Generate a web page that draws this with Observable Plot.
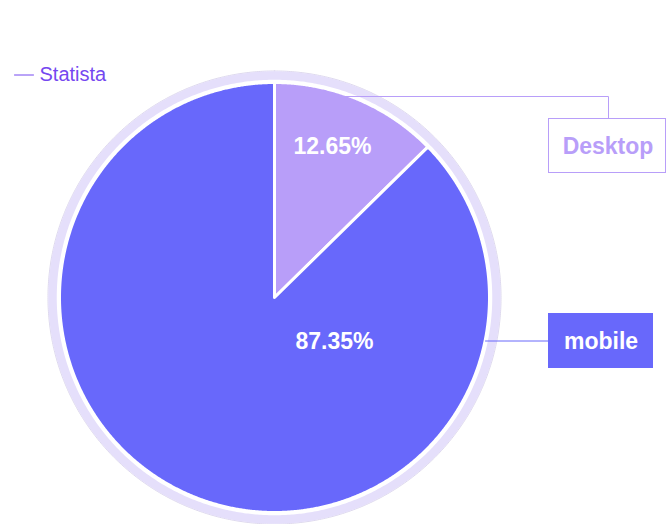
<!DOCTYPE html>
<html>
<head>
<meta charset="utf-8">
<script src="https://cdn.jsdelivr.net/npm/d3@7"></script>
<script src="https://cdn.jsdelivr.net/npm/@observablehq/plot@0.6"></script>
<style>
  html, body { margin: 0; padding: 0; background: #ffffff; }
  #chart svg { display: block; }
</style>
</head>
<body>
<div id="chart"></div>
<script>
// ---- data ----
const names = ["Desktop", "mobile"];
const shares = [12.65, 87.35];
const shareLabels = ["12.65%", "87.35%"];
const colors = ["#b89ef9", "#6868fb"];
const sourceLabel = "Statista";

// ---- geometry helpers (pixel -> data units) ----
const CX = 274, CY = 297, R = 215;
const px = x => (x - CX) / R;
const py = y => (CY - y) / R;

const rows = names.map((n, i) => ({name: n, value: shares[i], label: shareLabels[i], color: colors[i]}));
const arcs = d3.pie().sort(null).value(d => d.value)(rows);

const slicePts = [];
for (const a of arcs) {
  slicePts.push({name: a.data.name, x: 0, y: 0});
  const n = Math.max(2, Math.ceil((a.endAngle - a.startAngle) / 0.005));
  for (let k = 0; k <= n; k++) {
    const t = a.startAngle + (a.endAngle - a.startAngle) * k / n;
    slicePts.push({name: a.data.name, x: Math.sin(t), y: Math.cos(t)});
  }
}
const circle = r => d3.range(0, 721).map(k => {
  const t = k / 720 * 2 * Math.PI;
  return {x: r * Math.sin(t), y: r * Math.cos(t)};
});

const FONT = "'Liberation Sans', Arial, Helvetica, sans-serif";

const chart = Plot.plot({
  width: 666,
  height: 524,
  margin: 0,
  x: {domain: [-1, 1], range: [CX - R, CX + R], axis: null},
  y: {domain: [-1, 1], range: [CY + R, CY - R], axis: null},
  color: {domain: names, range: colors},
  style: {fontFamily: FONT, background: "#ffffff"},
  marks: [
    // outer halo ring
    Plot.line(circle(226.5 / R), {x: "x", y: "y", stroke: "#dcd7ec", strokeWidth: 1, curve: "linear-closed"}),
    Plot.line(circle(222 / R), {x: "x", y: "y", stroke: "#e5dffb", strokeWidth: 8.5, curve: "linear-closed"}),
    // slices
    Plot.line(slicePts, {x: "x", y: "y", z: "name", fill: "name", stroke: "white", strokeWidth: 3, strokeLinejoin: "round", curve: "linear-closed"}),
    // value labels
    Plot.text([rows[0]], {x: () => px(332), y: () => py(146), text: "label", fill: "white", fontSize: 23, fontWeight: "bold", textAnchor: "middle", lineAnchor: "middle"}),
    Plot.text([rows[1]], {x: () => px(334), y: () => py(341), text: "label", fill: "white", fontSize: 23, fontWeight: "bold", textAnchor: "middle", lineAnchor: "middle"}),
    // Desktop connector + box
    Plot.line([[343, 96], [608, 96], [608, 118]], {x: d => px(d[0]), y: d => py(d[1]), stroke: colors[0], strokeWidth: 1}),
    Plot.rect([rows[0]], {x1: () => px(548.5), x2: () => px(665.5), y1: () => py(118.5), y2: () => py(172.5), fill: "white", stroke: colors[0], strokeWidth: 1}),
    Plot.text([rows[0]], {x: () => px(607.5), y: () => py(146), text: "name", fill: colors[0], fontSize: 23, fontWeight: "bold", textAnchor: "middle", lineAnchor: "middle"}),
    // mobile connector + box
    Plot.line([[485, 340.5], [548, 340.5]], {x: d => px(d[0]), y: d => py(d[1]), stroke: colors[1], strokeWidth: 1}),
    Plot.rect([rows[1]], {x1: () => px(548), x2: () => px(653), y1: () => py(313), y2: () => py(368), fill: colors[1]}),
    Plot.text([rows[1]], {x: () => px(600.5), y: () => py(341), text: "name", fill: "white", fontSize: 23, fontWeight: "bold", textAnchor: "middle", lineAnchor: "middle"}),
    // source legend
    Plot.line([[14, 74.5], [33, 74.5]], {x: d => px(d[0]), y: d => py(d[1]), stroke: "#7548f0", strokeWidth: 1}),
    Plot.text([sourceLabel], {x: () => px(39), y: () => py(74), text: d => d, fill: "#7548f0", fontSize: 20, textAnchor: "start", lineAnchor: "middle"})
  ]
});
document.getElementById("chart").append(chart);
</script>
</body>
</html>
